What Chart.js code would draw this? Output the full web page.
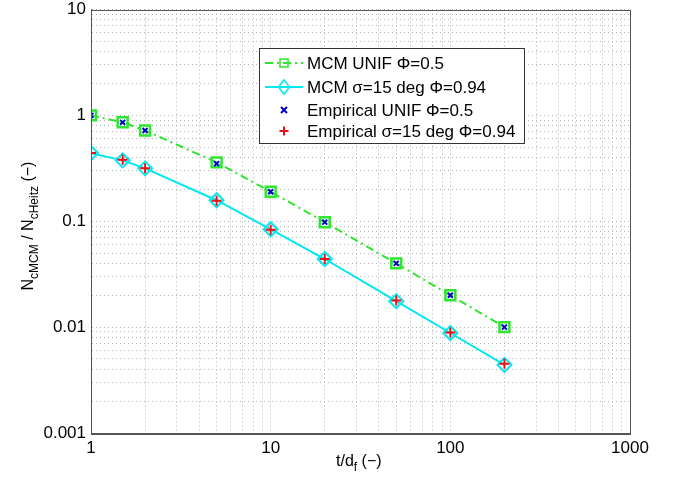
<!DOCTYPE html>
<html><head><meta charset="utf-8">
<script src="https://cdn.jsdelivr.net/npm/chart.js@4/dist/chart.umd.min.js"></script>
<style>html,body{margin:0;padding:0;background:#fff}#wrap{width:677px;height:479px}</style>
</head><body><div id="wrap"><canvas id="c" width="677" height="479"></canvas></div>
<script>
const ratios = [1, 1.5, 2, 5, 10, 20, 50, 100, 200];
const mcmUnif = [1.0, 0.86, 0.72, 0.36, 0.19, 0.098, 0.040, 0.020, 0.010];
const mcmSigma = [0.44, 0.376, 0.316, 0.158, 0.084, 0.044, 0.0176, 0.0088, 0.0044];
const empUnif = [1.0, 0.86, 0.72, 0.35, 0.19, 0.098, 0.040, 0.020, 0.010];
const empSigma = [0.44, 0.38, 0.316, 0.156, 0.083, 0.044, 0.0178, 0.0089, 0.0045];
const xTickLabels = ['1', '10', '100', '1000'];
const yTickLabels = ['0.001', '0.01', '0.1', '1', '10'];
const seriesNames = ['MCM UNIF \u03A6=0.5', 'MCM \u03C3=15 deg \u03A6=0.94', 'Empirical UNIF \u03A6=0.5', 'Empirical \u03C3=15 deg \u03A6=0.94'];

const GREEN = '#2ee62e', CYAN = '#00e8f0', BLUE = '#0000cc', RED = '#ee1111';
const FONT = '"Liberation Sans", Arial, sans-serif';

function pts(xs, ys){ return xs.map((x,i)=>({x:x, y:ys[i]})); }
function logTicks(min, max){
  const t=[];
  for(let e=Math.round(Math.log10(min)); e<Math.round(Math.log10(max)); e++){
    for(let m=1;m<10;m++) t.push({value: m*Math.pow(10,e)});
  }
  t.push({value:max});
  return t;
}
function isPow10(v){ const l=Math.log10(v); return Math.abs(l-Math.round(l))<1e-9; }
function fmt(v){ const e=Math.round(Math.log10(v)); return e>=0 ? String(Math.pow(10,e)) : (Math.pow(10,e)).toFixed(-e); }

function drawMarker(ctx, style, x, y, r, color, bw){
  ctx.save(); ctx.strokeStyle=color; ctx.lineWidth=bw; ctx.beginPath();
  if(style==='rect'){ ctx.rect(x-r,y-r,2*r,2*r); }
  else if(style==='rectRot'){ ctx.moveTo(x,y-r*1.3); ctx.lineTo(x+r,y); ctx.lineTo(x,y+r*1.3); ctx.lineTo(x-r,y); ctx.closePath(); }
  else if(style==='crossRot'){ ctx.moveTo(x-r,y-r); ctx.lineTo(x+r,y+r); ctx.moveTo(x+r,y-r); ctx.lineTo(x-r,y+r); }
  else if(style==='cross'){ ctx.moveTo(x-r,y); ctx.lineTo(x+r,y); ctx.moveTo(x,y-r); ctx.lineTo(x,y+r); }
  ctx.stroke(); ctx.restore();
}

const legendPlugin = {
  id:'customLegend',
  afterDraw(chart){
    const ctx=chart.ctx; const a=chart.chartArea;
    ctx.save();
    ctx.strokeStyle='#555'; ctx.lineWidth=1;
    ctx.strokeRect(Math.round(a.left)+0.5, Math.round(a.top)+0.5, Math.round(a.right-a.left), Math.round(a.bottom-a.top));
    const lx=259, ly=48, lw=265, lh=95;
    ctx.fillStyle='#fff'; ctx.fillRect(lx,ly,lw,lh);
    ctx.strokeStyle='#333'; ctx.lineWidth=1; ctx.strokeRect(lx+0.5,ly+0.5,lw,lh);
    ctx.font='17px '+FONT; ctx.textBaseline='middle'; ctx.textAlign='left';
    const rows=[63,87,110,131];
    const mk=[[ 'rect',4,GREEN,1.5],['rectRot',5.5,CYAN,1.5],['crossRot',3,BLUE,2],['cross',4.5,RED,2]];
    const ds=chart.data.datasets;
    rows.forEach((y,i)=>{
      const d=ds[i]; const cx=284;
      if(d.showLine!==false){
        ctx.strokeStyle=d.borderColor; ctx.lineWidth=d.borderWidth;
        ctx.setLineDash(d.borderDash||[]);
        ctx.beginPath(); ctx.moveTo(265,y); ctx.lineTo(303,y); ctx.stroke();
        ctx.setLineDash([]);
      }
      drawMarker(ctx, mk[i][0], cx, y, mk[i][1], mk[i][2], mk[i][3]);
      ctx.fillStyle='#000';
      ctx.fillText(seriesNames[i], 307, y+1);
    });
    ctx.fillStyle='#000'; ctx.textAlign='left'; ctx.textBaseline='alphabetic';
    const bx=336, by=466;
    ctx.font='16px '+FONT; ctx.fillText('t/d',bx,by);
    let w=ctx.measureText('t/d').width;
    ctx.font='12px '+FONT; ctx.fillText('f',bx+w,by+5);
    let w2=ctx.measureText('f').width;
    ctx.font='16px '+FONT; ctx.fillText(' (\u2212)',bx+w+w2,by);
    ctx.save(); ctx.translate(33,226); ctx.rotate(-Math.PI/2);
    const parts=[['N',16,0],['cMCM',12,5],[' / N',16,0],['cHeitz',12,5],[' (\u2212)',16,0]];
    let tot=0; parts.forEach(p=>{ctx.font=p[1]+'px '+FONT; tot+=ctx.measureText(p[0]).width;});
    let x=-tot/2;
    parts.forEach(p=>{ctx.font=p[1]+'px '+FONT; ctx.fillText(p[0],x,p[2]); x+=ctx.measureText(p[0]).width;});
    ctx.restore();
    ctx.restore();
  }
};

new Chart(document.getElementById('c'), {
  type:'scatter',
  data:{datasets:[
    {label:seriesNames[0], data:pts(ratios,mcmUnif), showLine:true, borderColor:GREEN, borderWidth:2, borderDash:[8,4,2,4],
     pointStyle:'rect', pointRadius:7, pointBorderColor:GREEN, pointBackgroundColor:'rgba(0,0,0,0)', pointBorderWidth:2.5, order:4},
    {label:seriesNames[1], data:pts(ratios,mcmSigma), showLine:true, borderColor:CYAN, borderWidth:2,
     pointStyle:'rectRot', pointRadius:7, pointBorderColor:CYAN, pointBackgroundColor:'rgba(0,0,0,0)', pointBorderWidth:2, order:3},
    {label:seriesNames[2], data:pts(ratios,empUnif), showLine:false, borderColor:BLUE,
     pointStyle:'crossRot', pointRadius:3.5, pointBorderColor:BLUE, pointBorderWidth:2, order:2},
    {label:seriesNames[3], data:pts(ratios,empSigma), showLine:false, borderColor:RED,
     pointStyle:'cross', pointRadius:5, pointBorderColor:RED, pointBorderWidth:2, order:1}
  ]},
  options:{
    responsive:false, animation:false, events:[],
    layout:{padding:{top:9,right:47,left:0,bottom:0}},
    plugins:{legend:{display:false}, tooltip:{enabled:false}},
    scales:{
      x:{type:'logarithmic', min:1, max:1000,
        afterBuildTicks(s){ s.ticks=logTicks(1,1000); },
        afterFit(s){ s.height=46; s.paddingLeft=0; s.paddingRight=0; },
        ticks:{autoSkip:false, maxRotation:0, color:'#000', font:{size:17, family:FONT}, padding:5,
          callback(v){ return isPow10(v) && xTickLabels.includes(fmt(v)) ? fmt(v) : ''; }},
        grid:{color:'#b4b4b4', lineWidth:1, drawTicks:false},
        border:{display:true, color:'#555', width:1, dash:[1,3]}
      },
      y:{type:'logarithmic', min:0.001, max:10,
        afterBuildTicks(s){ s.ticks=logTicks(0.001,10); },
        afterFit(s){ s.width=91; s.paddingTop=0; s.paddingBottom=0; },
        ticks:{autoSkip:false, color:'#000', font:{size:17, family:FONT}, padding:5,
          callback(v){ return isPow10(v) && yTickLabels.includes(fmt(v)) ? fmt(v) : ''; }},
        grid:{color:'#b4b4b4', lineWidth:1, drawTicks:false},
        border:{display:true, color:'#555', width:1, dash:[1,3]}
      }
    }
  },
  plugins:[legendPlugin]
});
</script></body></html>
